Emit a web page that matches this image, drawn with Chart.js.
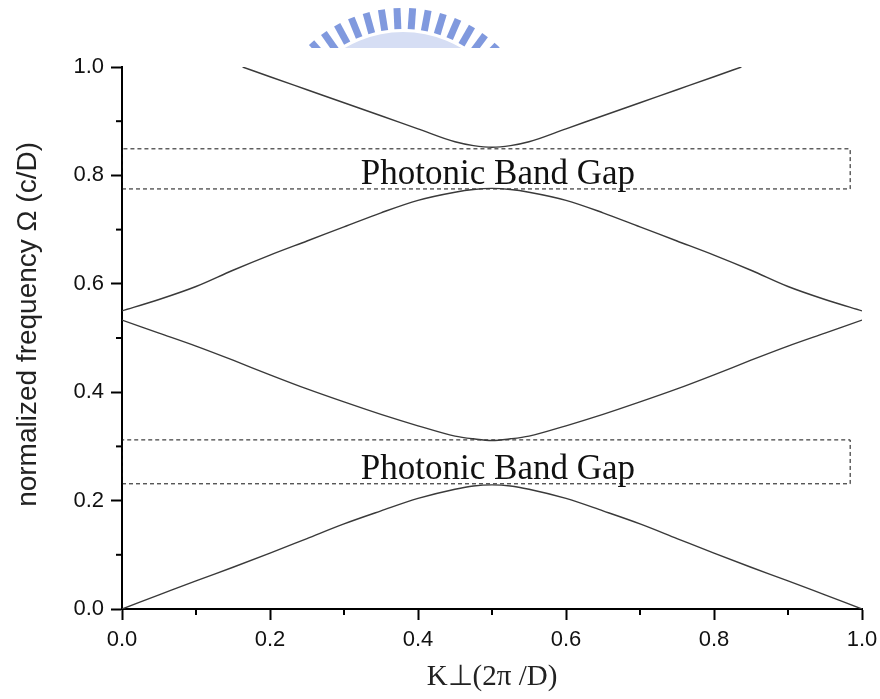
<!DOCTYPE html>
<html>
<head>
<meta charset="utf-8">
<script src="https://cdn.jsdelivr.net/npm/chart.js@4"></script>
<style>
html, body { margin: 0; padding: 0; background: #fff; }
</style>
</head>
<body>
<canvas id="myChart" width="880" height="699"></canvas>
<script>
// wave vector positions (units of 2pi/D)
var kPoints = [0, 0.05, 0.1, 0.15, 0.2, 0.25, 0.3, 0.35, 0.4, 0.45, 0.475, 0.5,
    0.525, 0.55, 0.6, 0.65, 0.7, 0.75, 0.8, 0.85, 0.9, 0.95, 1.0];

// normalized frequency for each band
var band1 = [0, 0.026, 0.052, 0.077, 0.103, 0.130, 0.157, 0.181, 0.204, 0.221, 0.227, 0.229,
    0.227, 0.221, 0.204, 0.181, 0.157, 0.130, 0.103, 0.077, 0.052, 0.026, 0];
var band2 = [0.533, 0.509, 0.485, 0.459, 0.432, 0.406, 0.382, 0.359, 0.338, 0.319, 0.314, 0.311,
    0.314, 0.319, 0.338, 0.359, 0.382, 0.406, 0.432, 0.459, 0.485, 0.509, 0.533];
var band3 = [0.550, 0.571, 0.595, 0.625, 0.653, 0.679, 0.705, 0.731, 0.754, 0.769, 0.774, 0.776,
    0.774, 0.769, 0.754, 0.731, 0.705, 0.679, 0.653, 0.625, 0.595, 0.571, 0.550];

var kBand4 = [0.163, 0.2, 0.25, 0.3, 0.35, 0.4, 0.45, 0.475, 0.5, 0.525, 0.55, 0.6, 0.65, 0.7, 0.75, 0.8, 0.837];
var band4 = [1.0, 0.982, 0.958, 0.934, 0.910, 0.886, 0.862, 0.855, 0.852, 0.855, 0.862, 0.886, 0.910, 0.934, 0.958, 0.982, 1.0];

// photonic band gaps [bottom, top]
var gapLow = [0.231, 0.312];
var gapHigh = [0.775, 0.849];
var gapRight = 0.984;
var gapLabel = 'Photonic Band Gap';

var xTicks = [0, 0.2, 0.4, 0.6, 0.8, 1.0];
var yTicks = [0, 0.2, 0.4, 0.6, 0.8, 1.0];
var yTitle = 'normalized frequency \u03A9 (c/D)';
var xTitle = 'K\u22A5(2\u03C0 /D)';

function toPoints(xs, ys) {
    return xs.map((x, i) => ({ x: x, y: ys[i] }));
}

function gapBox(gap) {
    return [
        { x: 0, y: gap[0] }, { x: gapRight, y: gap[0] },
        { x: gapRight, y: gap[1] }, { x: 0, y: gap[1] }, { x: 0, y: gap[0] }
    ];
}

function bandSet(data) {
    return {
        data: data,
        showLine: true,
        borderColor: '#3a3a3a',
        borderWidth: 1.4,
        pointRadius: 0,
        cubicInterpolationMode: 'monotone',
        fill: false
    };
}

function boxSet(data) {
    return {
        data: data,
        showLine: true,
        borderColor: '#111',
        borderWidth: 1,
        borderDash: [4, 3],
        pointRadius: 0,
        tension: 0,
        fill: false
    };
}

// small ticks between the labelled ones
var minorTicks = {
    id: 'minorTicks',
    afterDraw(chart) {
        var ctx = chart.ctx;
        var xs = chart.scales.x, ys = chart.scales.y;
        ctx.save();
        ctx.strokeStyle = '#000';
        ctx.lineWidth = 2;
        for (var i = 0; i < xTicks.length - 1; i++) {
            var mx = xs.getPixelForValue((xTicks[i] + xTicks[i + 1]) / 2);
            ctx.beginPath();
            ctx.moveTo(mx, ys.bottom);
            ctx.lineTo(mx, ys.bottom + 6);
            ctx.stroke();
        }
        for (var j = 0; j < yTicks.length - 1; j++) {
            var my = ys.getPixelForValue((yTicks[j] + yTicks[j + 1]) / 2);
            ctx.beginPath();
            ctx.moveTo(xs.left, my);
            ctx.lineTo(xs.left - 6, my);
            ctx.stroke();
        }
        ctx.restore();
    }
};

var textLayer = {
    id: 'textLayer',
    afterDatasetsDraw(chart) {
        var ctx = chart.ctx;
        var xs = chart.scales.x, ys = chart.scales.y;
        ctx.save();
        ctx.fillStyle = '#111';
        ctx.font = '35px "Liberation Serif"';
        ctx.textAlign = 'center';
        ctx.textBaseline = 'alphabetic';
        [gapHigh, gapLow].forEach(g => {
            var cx = xs.getPixelForValue(0.508);
            var cy = ys.getPixelForValue(g[0]);
            ctx.fillText(gapLabel, cx, cy - 5);
        });
        ctx.restore();

        // y axis title
        ctx.save();
        ctx.translate(28, ys.getPixelForValue(0.525));
        ctx.rotate(-Math.PI / 2);
        ctx.fillStyle = '#222';
        ctx.font = '28px "Liberation Sans"';
        ctx.textAlign = 'center';
        ctx.textBaseline = 'middle';
        ctx.fillText(yTitle, 0, 0);
        ctx.restore();
    }
};

// faint blue logo peeking out above the plot
var logo = {
    id: 'logo',
    beforeDraw(chart) {
        var ctx = chart.ctx;
        ctx.save();
        ctx.beginPath();
        ctx.rect(0, 0, 880, 48);
        ctx.clip();
        var cx = 403, cy = 146;
        ctx.fillStyle = '#d6def4';
        ctx.beginPath();
        ctx.arc(cx, cy, 114, Math.PI, 2 * Math.PI);
        ctx.arc(cx, cy, 88, 2 * Math.PI, Math.PI, true);
        ctx.fill();
        ctx.strokeStyle = '#8099de';
        ctx.lineWidth = 7;
        for (var a = 222; a <= 320; a += 6.5) {
            var r = a * Math.PI / 180;
            ctx.beginPath();
            ctx.moveTo(cx + Math.cos(r) * 117, cy + Math.sin(r) * 117);
            ctx.lineTo(cx + Math.cos(r) * 138, cy + Math.sin(r) * 138);
            ctx.stroke();
        }
        ctx.restore();
    }
};

var axisFont = { family: '"Liberation Sans", Arial, sans-serif', size: 22 };

var ctx = document.getElementById('myChart').getContext('2d');
var myChart = new Chart(ctx, {
    type: 'scatter',
    data: {
        datasets: [
            bandSet(toPoints(kPoints, band1)),
            bandSet(toPoints(kPoints, band2)),
            bandSet(toPoints(kPoints, band3)),
            bandSet(toPoints(kBand4, band4)),
            boxSet(gapBox(gapLow)),
            boxSet(gapBox(gapHigh))
        ]
    },
    options: {
        responsive: false,
        animation: false,
        layout: { padding: { left: 0, right: 18, top: 67, bottom: 0 } },
        plugins: { legend: { display: false }, tooltip: { enabled: false } },
        scales: {
            x: {
                type: 'linear',
                min: 0,
                max: 1,
                afterFit: scale => {
                    scale.height = 90;
                    scale.paddingLeft = 0;
                    scale.paddingRight = 0;
                },
                border: { display: true, color: '#000', width: 2 },
                grid: { drawOnChartArea: false, tickLength: 11, tickWidth: 2, tickColor: '#000' },
                ticks: {
                    stepSize: 0.2,
                    padding: 7,
                    color: '#111',
                    font: axisFont,
                    maxRotation: 0,
                    callback: v => v.toFixed(1)
                },
                title: {
                    display: true,
                    text: xTitle,
                    color: '#222',
                    font: { family: '"Liberation Serif", serif', size: 29 },
                    padding: { top: 4, bottom: 4 }
                }
            },
            y: {
                type: 'linear',
                min: 0,
                max: 1,
                afterFit: scale => {
                    scale.width = 122;
                    scale.paddingTop = 0;
                    scale.paddingBottom = 0;
                },
                border: { display: true, color: '#000', width: 2 },
                grid: { drawOnChartArea: false, tickLength: 11, tickWidth: 2, tickColor: '#000' },
                ticks: {
                    stepSize: 0.2,
                    padding: 7,
                    color: '#111',
                    font: axisFont,
                    callback: v => v.toFixed(1)
                }
            }
        }
    },
    plugins: [logo, minorTicks, textLayer]
});
</script>
</body>
</html>
